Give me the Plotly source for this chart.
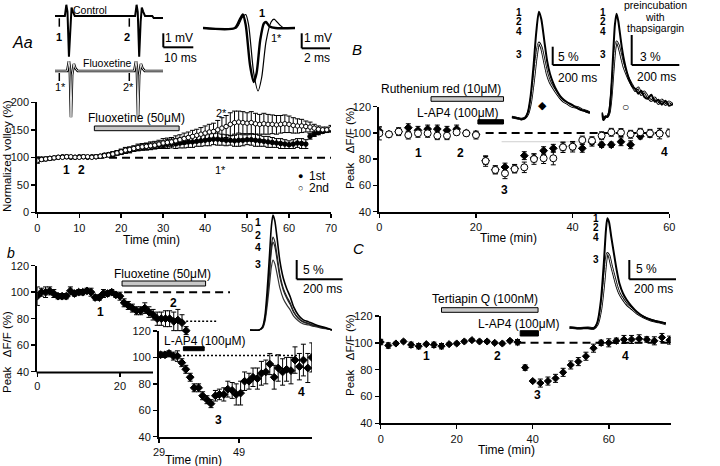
import plotly.graph_objects as go

W, H = 720, 466
FONT = "Liberation Sans, Arial, sans-serif"

# ---------------- Panel Aa : normalized volley ----------------
aa_time = list(range(0, 71))
aa_first = [96, 97, 97, 98, 99, 100, 101, 101, 100, 100,
            101, 101, 100, 101, 101, 102, 104, 105, 106, 108,
            110, 112, 113, 115, 117, 118, 119, 120, 121, 122,
            123, 124, 125, 125, 126, 127, 128, 128, 129, 130,
            131, 132, 133, 133, 132, 131, 131, 130, 131, 131,
            132, 132, 131, 130, 129, 128, 127, 126, 125, 124,
            123, 124, 126, 125, 124, 138, 142, 145, 147, 149, 150]
aa_first_err = [5, 3, 3, 3, 2, 2, 2, 3, 2, 2,
                2, 3, 2, 2, 3, 3, 3, 3, 4, 4,
                4, 5, 5, 4, 5, 5, 6, 6, 5, 6,
                7, 8, 8, 9, 9, 10, 10, 10, 9, 10,
                10, 11, 10, 11, 10, 10, 9, 10, 11, 10,
                9, 10, 11, 10, 9, 10, 9, 8, 9, 8,
                7, 8, 8, 9, 8, 5, 4, 4, 3, 3, 3]
aa_second = [94, 96, 97, 98, 99, 100, 100, 101, 101, 100,
             100, 101, 101, 100, 101, 102, 103, 104, 106, 108,
             110, 113, 114, 116, 118, 119, 120, 121, 122, 124,
             126, 127, 128, 130, 132, 134, 136, 138, 140, 142,
             144, 146, 147, 150, 153, 156, 160, 163, 164, 163,
             162, 163, 161, 160, 161, 160, 160, 159, 160, 161,
             160, 158, 157, 157, 156, 155, 153, 151, 150, 150, 152]
aa_second_err = [5, 3, 3, 3, 2, 2, 2, 2, 2, 2,
                 2, 2, 2, 2, 3, 3, 3, 3, 4, 4,
                 5, 5, 5, 5, 6, 6, 6, 7, 7, 7,
                 8, 8, 8, 9, 9, 10, 10, 11, 11, 12,
                 13, 14, 15, 17, 19, 20, 21, 21, 20, 20,
                 19, 20, 19, 18, 19, 18, 17, 17, 16, 16,
                 15, 14, 13, 12, 10, 9, 7, 6, 5, 5, 6]
aa_fluox = [13.6, 33.8]

# volley traces (ms, mV)
ctrl_t = [0, 3.4, 3.9, 4.3, 4.8, 5.3, 5.7, 6.2, 6.8, 27.6, 28.1, 28.5, 29.0, 29.5, 29.9, 30.4, 31.0, 33.5, 34.0, 37.2]
ctrl_mv = [0, 0, 0.8, 0.3, -2.9, -0.4, 0.6, 0.3, 0, 0, 0.8, 0.3, -2.9, -0.4, 0.6, 0.3, 0, 0, -0.15, -0.15]
flx_t = [0, 4.2, 4.8, 5.1, 5.5, 5.9, 6.5, 7.0, 7.8, 27.3, 27.9, 28.2, 28.6, 29.0, 29.6, 30.1, 30.9, 37.2]
flx_mv = [0, 0, 0.7, 0.2, -3.3, -0.3, 0.5, 0.2, 0, 0, 0.7, 0.2, -3.3, -0.3, 0.5, 0.2, 0, 0]
ov1_t = [0, 2.2, 2.55, 2.75, 2.95, 3.25, 3.5, 3.7, 3.95, 4.2, 4.35, 4.6, 5.0, 6.35]
ov1_mv = [0, 0, 0.6, 0.9, 0.2, -2.5, -3.6, -3.0, -0.8, 0.3, 0.4, 0.1, 0, 0]
ov2_t = [0, 2.3, 2.7, 2.95, 3.15, 3.5, 3.8, 4.05, 4.35, 4.7, 4.9, 5.3, 5.6, 6.35]
ov2_mv = [0, 0, 0.7, 0.9, 0.2, -3.0, -4.2, -3.3, -0.9, 0.4, 0.6, 0.2, 0, 0]

# ---------------- Panel b ----------------
b_main_time = list(range(0, 37))
b_main_vals = [97, 100, 100, 101, 99, 97, 97, 97, 101, 99,
               100, 100, 101, 100, 96, 96, 99, 99, 100, 98,
               97, 92, 90, 88, 86, 86, 88, 85, 83, 80,
               80, 80, 80, 78, 79, 77, 71]
b_main_err = [7, 3, 4, 3, 3, 2, 2, 2, 3, 2,
              2, 2, 2, 3, 2, 2, 3, 2, 2, 2,
              3, 3, 3, 3, 3, 3, 4, 4, 4, 5,
              5, 6, 6, 7, 8, 6, 3]
b_fluox = [20.5, 40.7]
b_in_time = [29.4, 30.5, 31.5, 32.6, 33.6, 34.7, 35.7, 36.8, 37.8, 38.9,
             39.9, 41.0, 42.0, 43.1, 44.1, 45.2, 46.2, 47.3, 48.3, 49.4,
             50.4, 51.5, 52.5, 53.6, 54.6, 55.7, 56.7, 57.8, 58.8, 59.9,
             60.9, 62.0, 63.0, 64.1, 65.1, 66.2, 67.2]
b_in_vals = [102, 102, 103, 101, 101, 96, 91, 85, 77, 77,
             71, 68, 65, 71, 72, 72, 76, 75, 72, 73,
             82, 82, 85, 84, 88, 89, 95, 85, 92, 89,
             91, 90, 98, 93, 98, 92, 100]
b_in_err = [2, 2, 2, 3, 4, 3, 3, 3, 3, 3,
            3, 3, 3, 4, 4, 5, 6, 6, 8, 9,
            7, 6, 7, 8, 9, 9, 8, 9, 10, 10,
            9, 10, 10, 10, 12, 11, 11]
b_lap4 = [35.1, 40.3]
b_tr_t = [0, 40, 55, 65, 75, 85, 93, 100, 108, 118, 130, 145, 160, 175, 190, 210, 230, 255, 280, 310, 340, 357]
b_tr_1 = [0, 0, 0.9, 3.6, 10.4, 19.4, 26.8, 29.8, 28.3, 23.8, 17.9, 13.4, 10.7, 8.6, 6.0, 3.9, 2.7, 2.1, 1.5, 0.9, 0.4, 0]
b_tr_2 = [0, 0, 0.7, 2.9, 8.4, 15.7, 21.7, 24.1, 22.9, 19.3, 14.5, 10.8, 8.7, 7.0, 4.8, 3.1, 2.2, 1.7, 1.2, 0.7, 0.3, 0]
b_tr_4 = [0, 0, 0.7, 2.7, 8.0, 14.8, 20.5, 22.8, 21.7, 18.2, 13.7, 10.3, 8.2, 6.6, 4.6, 3.0, 2.1, 1.6, 1.1, 0.7, 0.3, 0]
b_tr_3 = [0, 0, 0.5, 2.2, 6.3, 11.8, 16.3, 18.1, 17.2, 14.5, 10.9, 8.1, 6.5, 5.2, 3.6, 2.4, 1.6, 1.3, 0.9, 0.5, 0.2, 0]

# ---------------- Panel B ----------------
B_time = list(range(0, 61, 2))
B_open = [99.7, 99, 101, 98.4, 99.7, 99.7, 97.9, 97.9, 100.5, 99.7,
          98.4, 78.6, 71.8, 69.2, 72.5, 73.8, 80.1, 80.7, 80.7, 89.1,
          89.5, 94.6, 94.1, 97.9, 100.5, 100.3, 99, 100.5, 99.7, 99.5, 100]
B_open_err = [5, 2, 2, 3, 3, 3, 3, 3, 2, 2,
              3, 4, 3, 4, 3, 4, 4, 4, 5, 4,
              4, 3, 3, 3, 3, 3, 3, 3, 3, 4, 3]
B_filled = [101.5, 99, 101, 104, 102, 103, 103, 102, 103, 100,
            99, 79, 72, 74, 73, 82.7, 81, 86.5, 88.3, 89.5,
            90, 88.3, 93, 91, 91, 93.3, 91, 97.5, 99, 100, 100]
B_filled_err = [3, 2, 3, 3, 3, 3, 3, 3, 3, 2,
                2, 3, 3, 3, 3, 3, 3, 3, 3, 3,
                3, 3, 3, 2, 2, 3, 3, 2, 2, 2, 2]
B_rr = [10.7, 25.7]
B_lap4 = [20.4, 25.7]
B1_t = [0, 20, 40, 56, 68, 80, 92, 104, 115, 125, 138, 150, 162, 175, 190, 205, 220, 235, 250, 265, 280, 295, 310, 331]
B1_a = [0.3, 0, -0.3, 0, 1.5, 6, 14, 23.5, 29, 27, 21, 15.5, 12, 9.6, 7.5, 6, 5, 4.3, 3.8, 3.2, 2.6, 2.2, 1.9, 1.4]
B1_b = [0.3, 0, -0.3, 0, 1.1, 4.2, 9.9, 16.6, 20.5, 19.3, 15.5, 12, 9.8, 8.3, 6.8, 5.5, 4.5, 4.0, 3.3, 3.0, 2.9, 2.3, 2.0, 1.5]
B2_t = [0, 8, 16, 24, 32, 40, 48, 56, 63, 70, 78, 86, 95, 105, 118, 130, 142, 155, 168, 180, 195, 210, 225, 240, 255, 270, 285, 302]
B2_a = [0.4, -0.3, 0, 0, 0.5, 2.5, 6.0, 9.2, 10.3, 9.6, 8.2, 6.8, 5.6, 4.6, 3.6, 3.0, 2.8, 2.3, 2.6, 2.0, 1.8, 2.2, 1.5, 1.7, 1.2, 1.6, 1.1, 1.3]
B2_b = [0.4, -0.3, 0, 0, 0.4, 1.9, 4.4, 6.7, 7.5, 7.2, 6.5, 5.7, 4.9, 4.3, 3.6, 3.1, 2.6, 2.9, 2.2, 2.5, 2.0, 1.6, 1.9, 1.3, 1.7, 1.2, 1.5, 1.2]

# ---------------- Panel C ----------------
C_time = list(range(0, 77, 2))
C_vals = [100.6, 98, 99.5, 101, 98.5, 97.5, 99, 98.5, 97.5, 99,
          99.5, 101, 102, 101, 101, 100, 99.5, 101.5, 100.5, 81.5,
          71.5, 70, 71.5, 73.5, 78, 83.5, 86, 90, 96, 100,
          100, 101.5, 102.5, 102.5, 103, 102.5, 101.5, 104, 102]
C_err = [2, 2, 1, 1, 2, 2, 1, 2, 2, 1,
         1, 1, 1, 1, 1, 1, 1, 1, 2, 2,
         1, 3, 3, 3, 3, 3, 3, 3, 3, 2,
         3, 2, 3, 3, 3, 2, 3, 3, 3]
C_tq = [16, 41.4]
C_lap4 = [36.7, 41.5]
C_tr_t = [0, 40, 80, 105, 120, 135, 148, 157, 163, 170, 180, 192, 203, 215, 230, 246, 265, 290, 318, 350, 385, 414]
C_tr_a = [0.2, 0, 0.1, 0, 1.5, 7, 17, 25.5, 28.5, 27.5, 23.5, 19, 15, 11.5, 9, 7.3, 5.8, 4.2, 3.0, 2.2, 1.6, 1.3]
C_tr_b = [0.2, 0, 0.1, 0, 1.0, 4.8, 11.6, 17.4, 19.4, 18.8, 16.3, 13.5, 11, 9.0, 7.5, 6.2, 5.2, 3.9, 2.9, 2.1, 1.6, 1.1]


# ---------------- helpers ----------------
def dx(a, b):
    return [a / W, b / W]


def dy(top, bottom):
    return [1 - bottom / H, 1 - top / H]


def PX(x):
    return x / W


def PY(y):
    return 1 - y / H


def main_axis(domain, rng, tickvals, anchor, showline=True):
    return dict(domain=domain, range=rng, tickvals=tickvals, anchor=anchor,
                showline=showline, linecolor="black", linewidth=2,
                ticks="outside", ticklen=4, tickwidth=1.5, tickcolor="black",
                showgrid=False, zeroline=False, fixedrange=True,
                tickfont=dict(family=FONT, size=11, color="#111"))


def hidden_axis(domain, rng, anchor):
    return dict(domain=domain, range=rng, anchor=anchor, visible=False,
                showgrid=False, zeroline=False, fixedrange=True)


fig = go.Figure()

err_style = dict(type="data", thickness=1, width=2.5, color="black")


def pts(x, y, err, ax, symbol, size, fill="black"):
    fig.add_trace(go.Scatter(
        x=x, y=y, mode="markers", xaxis="x" + ax, yaxis="y" + ax,
        error_y=dict(array=err, **err_style),
        marker=dict(symbol=symbol, size=size, color=fill,
                    line=dict(color="black", width=1)),
        showlegend=False, hoverinfo="skip"))


def line(x, y, ax, width, color="black", shape="spline"):
    fig.add_trace(go.Scatter(
        x=x, y=y, mode="lines", xaxis="x" + ax, yaxis="y" + ax,
        line=dict(color=color, width=width, shape=shape, smoothing=0.7 if shape == "spline" else None),
        showlegend=False, hoverinfo="skip"))


def hollow(x, y, ax, shape="spline"):
    line(x, y, ax, 2.6, "black", shape)
    line(x, y, ax, 0.9, "white", shape)


# Aa data
pts(aa_time, aa_first, aa_first_err, "", "circle", 4.5)
pts(aa_time, aa_second, aa_second_err, "", "circle", 4.5, "white")
# b
pts(b_main_time, b_main_vals, b_main_err, "2", "diamond", 6)
pts(b_in_time, b_in_vals, b_in_err, "3", "diamond", 6)
# B
pts(B_time, B_filled, B_filled_err, "4", "diamond", 6)
pts(B_time, B_open, B_open_err, "4", "circle", 7, "white")
# C
pts(C_time, C_vals, C_err, "5", "diamond", 5.5)

# waveforms
line(ctrl_t, ctrl_mv, "6", 2, shape="linear")
hollow(flx_t, flx_mv, "7", shape="linear")
line(ov2_t, ov2_mv, "8", 1.2)
line(ov1_t, ov1_mv, "8", 2.4)
line(b_tr_t, b_tr_3, "9", 1.2, "#333")
line(b_tr_t, b_tr_4, "9", 1.2, "#222")
line(b_tr_t, b_tr_2, "9", 1.2, "#222")
line(b_tr_t, b_tr_1, "9", 1.6)
hollow(B1_t, B1_b, "10")
line(B1_t, B1_a, "10", 2)
hollow(B2_t, B2_b, "11")
line(B2_t, B2_a, "11", 2)
hollow(C_tr_t, C_tr_b, "12")
line(C_tr_t, C_tr_a, "12", 2)

# ---------------- shapes ----------------
shapes = []


def seg(x0, y0, x1, y1, width=2):
    shapes.append(dict(type="line", xref="paper", yref="paper",
                       x0=PX(x0), y0=PY(y0), x1=PX(x1), y1=PY(y1),
                       line=dict(color="black", width=width)))


def bar(ax, t, ytop, ybot, fill):
    shapes.append(dict(type="rect", xref=ax, yref="paper", x0=t[0], x1=t[1],
                       y0=PY(ybot), y1=PY(ytop), fillcolor=fill,
                       line=dict(color="black", width=1)))


def ref(ax, x0, x1, yv, dash, width=2, color="black"):
    shapes.append(dict(type="line", xref="x" + ax, yref="y" + ax,
                       x0=x0, x1=x1, y0=yv, y1=yv, layer="below",
                       line=dict(color=color, width=width, dash=dash)))


# scale bars
for (xv, yt, yb, xr) in [(163.3, 33.3, 47.3, 193.3), (301.7, 33.3, 48.3, 330),
                         (296.7, 260, 279.3, 342.7), (552.7, 46.7, 65, 600),
                         (631.7, 35, 65, 679.3), (629.3, 260, 279.3, 676)]:
    seg(xv, yt, xv, yb)
    seg(xv, yb, xr, yb)
# stimulus ticks
for xv in (59.3, 129.3):
    seg(xv, 18.3, xv, 26.7, 1.5)
    seg(xv, 73, xv, 81, 1.5)
# b main x axis line (partial)
seg(36.5, 372.5, 153, 372.5, 2)

GREY = "#c8c8c8"
bar("x", aa_fluox, 126, 130.7, GREY)
bar("x2", b_fluox, 281, 286, GREY)
bar("x3", b_lap4, 346.7, 350.7, "black")
bar("x4", B_rr, 96.7, 101.3, GREY)
bar("x4", B_lap4, 119.7, 124, "black")
bar("x5", C_tq, 307.7, 312.3, GREY)
bar("x5", C_lap4, 330.7, 336, "black")

ref("", 14, 70, 99, "8px,5px")
ref("2", 21, 46.6, 100, "8px,5px")
ref("2", 36, 43.5, 78, "2px,2px", 1.5)
ref("3", 29, 64.2, 101.5, "2px,2px", 1.5)
ref("4", 22, 60, 100, "8px,5px")
ref("4", 25.3, 44.2, 93.3, "solid", 1, "#cfcfcf")
ref("5", 36, 76.3, 100, "8px,5px")

# ---------------- annotations ----------------
ann = []


def T(s, x, y, size=11, bold=False, italic=False, anchor="center", angle=0):
    if bold:
        s = "<b>" + s + "</b>"
    if italic:
        s = "<i>" + s + "</i>"
    ann.append(dict(x=PX(x), y=PY(y), xref="paper", yref="paper", text=s,
                    showarrow=False, xanchor=anchor, yanchor="middle",
                    textangle=angle,
                    font=dict(family=FONT, size=size, color="black")))


NB = "\u00a0"
PEAK = "Peak" + NB * 3 + "ΔF/F (%)"

# Aa
T("Aa", 22, 42, 16, italic=True)
T("Control", 90, 10, 10.5)
T("Fluoxetine", 107, 63, 10.5)
T("1", 59.3, 36.7, 11, bold=True)
T("2", 126.7, 36.7, 11, bold=True)
T("1*", 60, 86.7, 11)
T("2*", 128.3, 86.7, 11)
T("1 mV", 179, 38.3, 12)
T("10 ms", 180, 58.3, 12)
T("1", 261.7, 13.3, 11, bold=True)
T("1*", 276.7, 38.3, 11)
T("1 mV", 318.3, 38.3, 12)
T("2 ms", 317, 58.3, 12)
T("Fluoxetine (50μM)", 136, 118.3, 12)
T("2*", 221.7, 113.3, 11)
T("1*", 220, 170, 11)
T("1", 66.7, 170, 12, bold=True)
T("2", 81.7, 170, 12, bold=True)
T("●", 300, 176, 9)
T("1st", 307, 176, 12, anchor="left")
T("○", 300, 188.3, 9)
T("2nd", 307, 188.3, 12, anchor="left")
T("Normalized volley (%)", 7, 156, 11.5, angle=-90)
T("Time (min)", 151, 239.5, 12)

# b
T("b", 11, 253, 14, italic=True)
T(PEAK, 7, 352, 11.5, angle=-90)
T("Fluoxetine (50μM)", 162.5, 274, 12)
T("1", 100, 311.7, 12, bold=True)
T("2", 173.3, 303, 12, bold=True)
T("L-AP4 (100μM)", 204.5, 340.7, 12)
T("3", 218.3, 420, 12, bold=True)
T("4", 301.7, 391.7, 12, bold=True)
T("Time (min)", 193.3, 460, 12)
for s, yv in (("1", 221.7), ("2", 235), ("4", 246.7), ("3", 264)):
    T(s, 258.3, yv, 10.5, bold=True)
T("5 %", 313.3, 270, 12)
T("200 ms", 322.3, 289.3, 12)

# B
T("B", 357, 50, 15, italic=True)
T(PEAK, 350, 148, 11.5, angle=-90)
T("Ruthenium red (10μM)", 441, 89.3, 12)
T("L-AP4 (100μM)", 458, 112.7, 12)
T("1", 418, 152.7, 12, bold=True)
T("2", 461, 152.7, 12, bold=True)
T("3", 505, 190, 12, bold=True)
T("4", 664, 151.7, 12, bold=True)
T("Time (min)", 508.3, 237.5, 12)
for s, yv in (("1", 12.2), ("2", 22), ("4", 31.8), ("3", 54)):
    T(s, 519.3, yv, 10, bold=True)
    T(s, 602.7, yv, 10, bold=True)
T("◆", 542.7, 105, 11)
T("5 %", 568.3, 56.7, 12)
T("200 ms", 577.7, 77.7, 12)
T("○", 625, 107, 12)
T("3 %", 650, 56.7, 12)
T("200 ms", 656.7, 76.7, 12)
T("preincubation", 655, 5, 10.5)
T("with", 655, 16.7, 10.5)
T("thapsigargin", 655, 28.3, 10.5)

# C
T("C", 358, 248, 15, italic=True)
T(PEAK, 350, 355, 11.5, angle=-90)
T("Tertiapin Q (100nM)", 485, 299.3, 12)
T("L-AP4 (100μM)", 519.3, 324, 12)
T("1", 426, 356, 12, bold=True)
T("2", 497, 356, 12, bold=True)
T("3", 537.7, 395, 12, bold=True)
T("4", 625.7, 355.7, 12, bold=True)
T("Time (min)", 506.7, 449.5, 12)
for s, yv in (("1", 218), ("2", 227.5), ("4", 237.3), ("3", 259.3)):
    T(s, 596, yv, 10, bold=True)
T("5 %", 646, 269.3, 12)
T("200 ms", 653.8, 289.3, 12)

layout = dict(
    width=W, height=H, margin=dict(l=0, r=0, t=0, b=0, autoexpand=False),
    paper_bgcolor="white", plot_bgcolor="rgba(0,0,0,0)",
    showlegend=False, shapes=shapes, annotations=ann,
    xaxis=main_axis(dx(37.3, 331), [0, 70], list(range(0, 71, 10)), "y"),
    yaxis=main_axis(dy(102.3, 212.3), [0, 200], [0, 50, 100, 150, 200], "x"),
    xaxis2=main_axis(dx(37.3, 239.9), [0, 49], [0, 20], "y2", showline=False),
    yaxis2=main_axis(dy(265.7, 371.7), [40, 120], [40, 60, 80, 100, 120], "x2"),
    xaxis3=main_axis(dx(159, 312), [29, 67.25], [29, 49], "y3"),
    yaxis3=main_axis(dy(331, 436.7), [40, 120], [40, 60, 80, 100, 120], "x3"),
    xaxis4=main_axis(dx(379.3, 669.3), [0, 60], [0, 20, 40, 60], "y4"),
    yaxis4=main_axis(dy(106.7, 211.7), [40, 120], [40, 60, 80, 100, 120], "x4"),
    xaxis5=main_axis(dx(380.7, 670.7), [0, 76.3], [0, 20, 40, 60], "y5"),
    yaxis5=main_axis(dy(316, 423.3), [40, 120], [40, 60, 80, 100, 120], "x5"),
    xaxis6=hidden_axis(dx(55, 163), [0, 37.2], "y6"),
    yaxis6=hidden_axis(dy(0, 60), [-3.14, 1.14], "x6"),
    xaxis7=hidden_axis(dx(55, 163), [0, 37.2], "y7"),
    yaxis7=hidden_axis(dy(55, 118), [-3.36, 1.14], "x7"),
    xaxis8=hidden_axis(dx(203, 295), [0, 6.35], "y8"),
    yaxis8=hidden_axis(dy(0, 100), [-4.8, 1.87], "x8"),
    xaxis9=hidden_axis(dx(250, 332), [0, 357], "y9"),
    yaxis9=hidden_axis(dy(205, 335), [-1.3, 32.4], "x9"),
    xaxis10=hidden_axis(dx(511.7, 590), [0, 331], "y10"),
    yaxis10=hidden_axis(dy(0, 125), [-1.9, 32.2], "x10"),
    xaxis11=hidden_axis(dx(601.7, 673), [0, 302], "y11"),
    yaxis11=hidden_axis(dy(0, 125), [-0.83, 11.67], "x11"),
    xaxis12=hidden_axis(dx(569.3, 666), [0, 414], "y12"),
    yaxis12=hidden_axis(dy(205, 335), [-1.74, 31.9], "x12"),
)
fig.update_layout(**layout)
fig.write_html(
    "out.html",
    config={"displayModeBar": False, "staticPlot": True},
    post_script="document.body.style.margin='0px';document.body.style.padding='0px';document.body.style.overflow='hidden';",
)
